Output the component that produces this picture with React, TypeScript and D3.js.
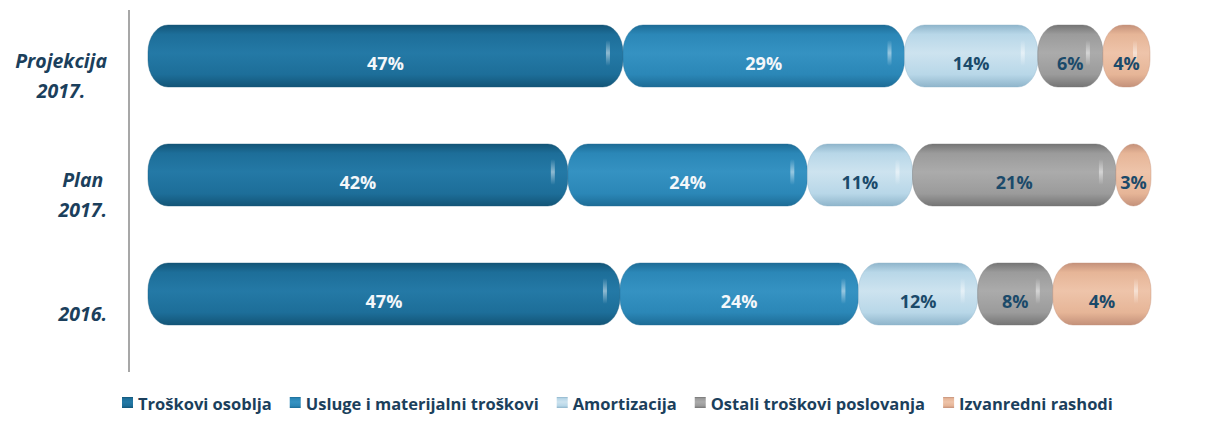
import React from "react";
import * as d3 from "d3";

const categories = ["Projekcija 2017.", "Plan 2017.", "2016."];
const categoryLines = [["Projekcija", "2017."], ["Plan", "2017."], ["2016."]];
const seriesNames = [
  "Troškovi osoblja",
  "Usluge i materijalni troškovi",
  "Amortizacija",
  "Ostali troškovi poslovanja",
  "Izvanredni rashodi",
];
// segment shares
const troskoviOsoblja = [47.4, 41.9, 47.1];
const usluge = [28.1, 23.9, 23.8];
const amortizacija = [13.3, 10.5, 11.9];
const ostali = [6.5, 20.3, 7.5];
const izvanredni = [4.7, 3.5, 9.8];
// printed labels
const labelOsoblja = ["47%", "42%", "47%"];
const labelUsluge = ["29%", "24%", "24%"];
const labelAmort = ["14%", "11%", "12%"];
const labelOstali = ["6%", "21%", "8%"];
const labelIzv = ["4%", "3%", "4%"];

const colors = ["#1d6e99", "#2b87b7", "#b8d7e8", "#9b9b9b", "#e6b597"];
const darkEdge = ["#135577", "#1d6c96", "#8fb5cb", "#757575", "#c4917a"];
const lightMid = ["#2479a6", "#3592c2", "#cde3ef", "#ababab", "#eec4aa"];
const labelColors = ["#f4f7fa", "#f4f7fa", "#1b4a6a", "#1b4a6a", "#1b4a6a"];

const W = 1220;
const H = 429;

export default function App() {
  const seriesValues = [troskoviOsoblja, usluge, amortizacija, ostali, izvanredni];
  const seriesLabels = [labelOsoblja, labelUsluge, labelAmort, labelOstali, labelIzv];
  const rows = categories.map((c, i) => {
    const r: any = { cat: c };
    seriesNames.forEach((s, j) => (r[s] = seriesValues[j][i]));
    return r;
  });
  const stacked = d3.stack<any>().keys(seriesNames)(rows);
  const x = d3.scaleLinear().domain([0, 100]).range([148, 1150]);
  const y = d3.scalePoint<string>().domain(categories).range([56, 294]);
  const barH = 62;

  const measure = (t: string, font: string) => {
    const c = document.createElement("canvas").getContext("2d")!;
    c.font = font;
    return c.measureText(t).width;
  };
  const catFont = "italic bold 19.5px 'Open Sans'";
  const legendFont = "bold 16.5px 'Open Sans'";
  const barFont = "bold 18px 'Open Sans'";

  // legend layout
  let lx = 122;
  const legendItems = seriesNames.map((s, i) => {
    const item = { name: s, x: lx, i };
    lx += 16 + measure(s, legendFont) + 18;
    return item;
  });

  return (
    <svg width={W} height={H} style={{ position: "absolute", left: 0, top: 0, background: "#fff" }}>
      <defs>
        {colors.map((c, i) => (
          <linearGradient key={i} id={`g${i}`} x1="0" y1="0" x2="0" y2="1">
            <stop offset="0" stopColor={darkEdge[i]} />
            <stop offset="0.15" stopColor={c} />
            <stop offset="0.45" stopColor={lightMid[i]} />
            <stop offset="0.8" stopColor={c} />
            <stop offset="1" stopColor={darkEdge[i]} />
          </linearGradient>
        ))}
        <linearGradient id="hl" x1="0" y1="0" x2="0" y2="1">
          <stop offset="0" stopColor="#fff" stopOpacity="0" />
          <stop offset="0.5" stopColor="#fff" stopOpacity="0.7" />
          <stop offset="1" stopColor="#fff" stopOpacity="0" />
        </linearGradient>
      </defs>
      <line x1={129} x2={129} y1={10} y2={372} stroke="#8a8a8a" strokeWidth={1.5} />
      {stacked.map((s, j) =>
        s.map((d, i) => {
          const x0 = x(d[0]);
          const x1 = x(d[1]);
          const w = x1 - x0;
          const cy = y(categories[i])!;
          const rx = Math.min(20, w / 2);
          return (
            <g key={`${j}-${i}`}>
              <rect
                x={x0}
                y={cy - barH / 2}
                width={w}
                height={barH}
                rx={rx}
                ry={barH / 2 - 4}
                fill={`url(#g${j})`}
                stroke={darkEdge[j]}
                strokeOpacity={0.5}
                strokeWidth={0.8}
              />
              {w > 40 && (
                <rect x={x1 - 17} y={cy - 16} width={4} height={26} rx={2} fill="url(#hl)" opacity={0.7} />
              )}
              <text
                x={(x0 + x1) / 2}
                y={cy + 7}
                textAnchor="middle"
                dominantBaseline="central"
                fill={labelColors[j]}
                style={{ font: barFont }}
              >
                {seriesLabels[j][i]}
              </text>
            </g>
          );
        })
      )}
      {categories.map((c, i) => {
        const lines = categoryLines[i];
        const maxW = Math.max(...lines.map((l) => measure(l, catFont)));
        const cx = 107 - maxW / 2;
        const cy = y(c)! + 19;
        const lh = 30;
        const top = cy - ((lines.length - 1) * lh) / 2;
        return (
          <text key={c} textAnchor="middle" fill="#1b3f5c" style={{ font: catFont }}>
            {lines.map((l, k) => (
              <tspan key={k} x={cx} y={top + k * lh} dominantBaseline="central">
                {l}
              </tspan>
            ))}
          </text>
        );
      })}
      {legendItems.map((it) => (
        <g key={it.name}>
          <rect x={it.x} y={397} width={11} height={11} fill={`url(#g${it.i})`} />
          <text x={it.x + 16} y={403} dominantBaseline="central" fill="#1b3f5c" style={{ font: legendFont }}>
            {it.name}
          </text>
        </g>
      ))}
    </svg>
  );
}
